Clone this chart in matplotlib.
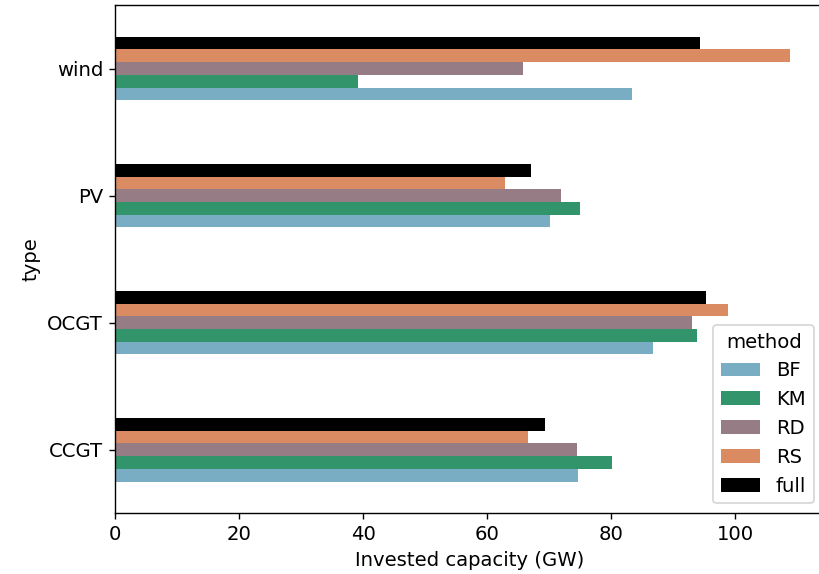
import matplotlib

matplotlib.use("Agg")
import matplotlib.pyplot as plt
import numpy as np

# invested capacity (GW) per technology and clustering method
types = ["CCGT", "OCGT", "PV", "wind"]
methods = ["BF", "KM", "RD", "RS", "full"]
bf = [74.7, 86.8, 70.1, 83.4]
km = [80.1, 93.9, 75.0, 39.2]
rd = [74.5, 93.0, 71.9, 65.8]
rs = [66.6, 98.8, 62.9, 108.9]
full = [69.4, 95.3, 67.1, 94.4]

COLORS = ["#79adc3", "#31946a", "#967d85", "#db8b61", "#000000"]

series = [bf, km, rd, rs, full]

plt.rcParams["font.size"] = 11.3

fig = plt.figure(figsize=(819 / 125, 574 / 125), dpi=125)
ax = fig.add_axes([115.3 / 819, 1 - 513.3 / 574, (824 - 115.3) / 819, (513.3 - 5) / 574])

pos = np.arange(len(types))
width = 0.5 / len(methods)
for i, (name, vals, col) in enumerate(zip(methods, series, COLORS)):
    ax.barh(pos + (i - (len(methods) - 1) / 2) * width, vals, height=width,
            color=col, label=name)

ax.set_yticks(pos)
ax.set_yticklabels(types)
ax.set_ylim(-0.5, len(types) - 0.5)
ax.set_xlabel("Invested capacity (GW)")
ax.set_ylabel("type")
ax.legend(title="method", loc="lower right")

fig.savefig("out.png", dpi=125)
